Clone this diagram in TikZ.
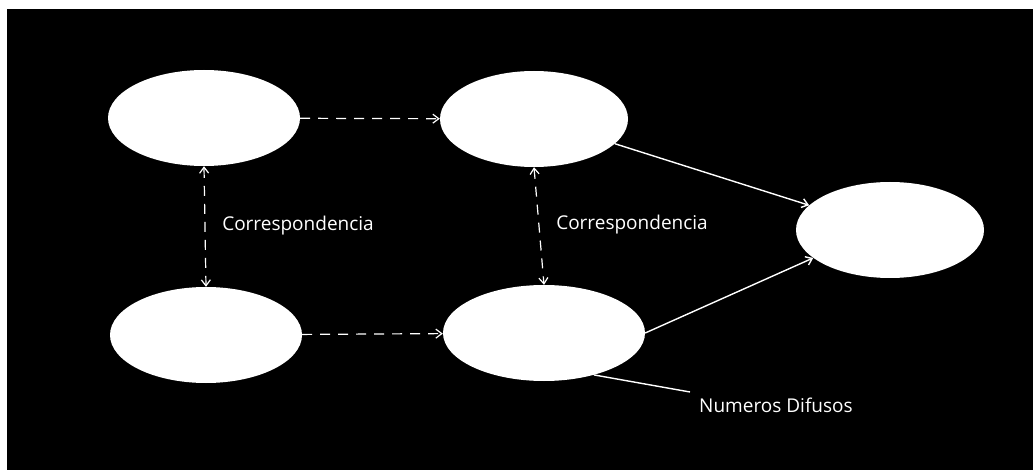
\documentclass[tikz,border=0pt]{standalone}
\usepackage{fontspec}
\setmainfont{Open Sans}
\usetikzlibrary{arrows.meta,shapes.geometric}
\begin{document}
\begin{tikzpicture}[x=1pt,y=-1pt,
  oval/.style={ellipse,fill=white,draw=none,inner sep=0pt,minimum width=192pt,minimum height=96pt},
  link/.style={draw=white,line width=1.4pt,-{Straight Barb[length=6pt,width=9pt]}},
  dlink/.style={draw=white,line width=1.2pt,dashed,dash pattern=on 10pt off 8pt,-{Straight Barb[length=6pt,width=9pt]}},
  ddlink/.style={draw=white,line width=1.2pt,dashed,dash pattern=on 10pt off 8pt,{Straight Barb[length=6pt,width=9pt]}-{Straight Barb[length=6pt,width=9pt]}},
  lbl/.style={text=white,font=\fontsize{19}{22}\selectfont,inner sep=0pt,anchor=base}]
\useasboundingbox (0,0) rectangle (1033,470);
\fill[white] (0,0) rectangle (1033,470);
\fill[black] (7,9) rectangle (1033,470);
\node[oval] (A) at (204,118) {};
\node[oval,minimum width=188pt] (B) at (534,119) {};
\node[oval] (C) at (206,335) {};
\node[oval,minimum width=202pt] (D) at (544,333) {};
\node[oval,minimum width=188pt] (E) at (890,230) {};
\draw[dlink] (A) -- (B);
\draw[dlink] (C) -- (D);
\draw[ddlink] (A.south) -- (C.north);
\draw[ddlink] (B.south) -- (D.north);
\node[lbl] (l1) at (298,231) {Correspondencia};
\node[lbl] (l2) at (632,230) {Correspondencia};
\draw[link] (B.-17) -- (E.163);
\draw[link] (D.east) -- (E.200);
\node[lbl] (l3) at (776,412) {Numeros Difusos};
\coordinate (n) at (690,392);
\draw[white,line width=1.4pt] (D.-40) -- (n);
\end{tikzpicture}
\end{document}
